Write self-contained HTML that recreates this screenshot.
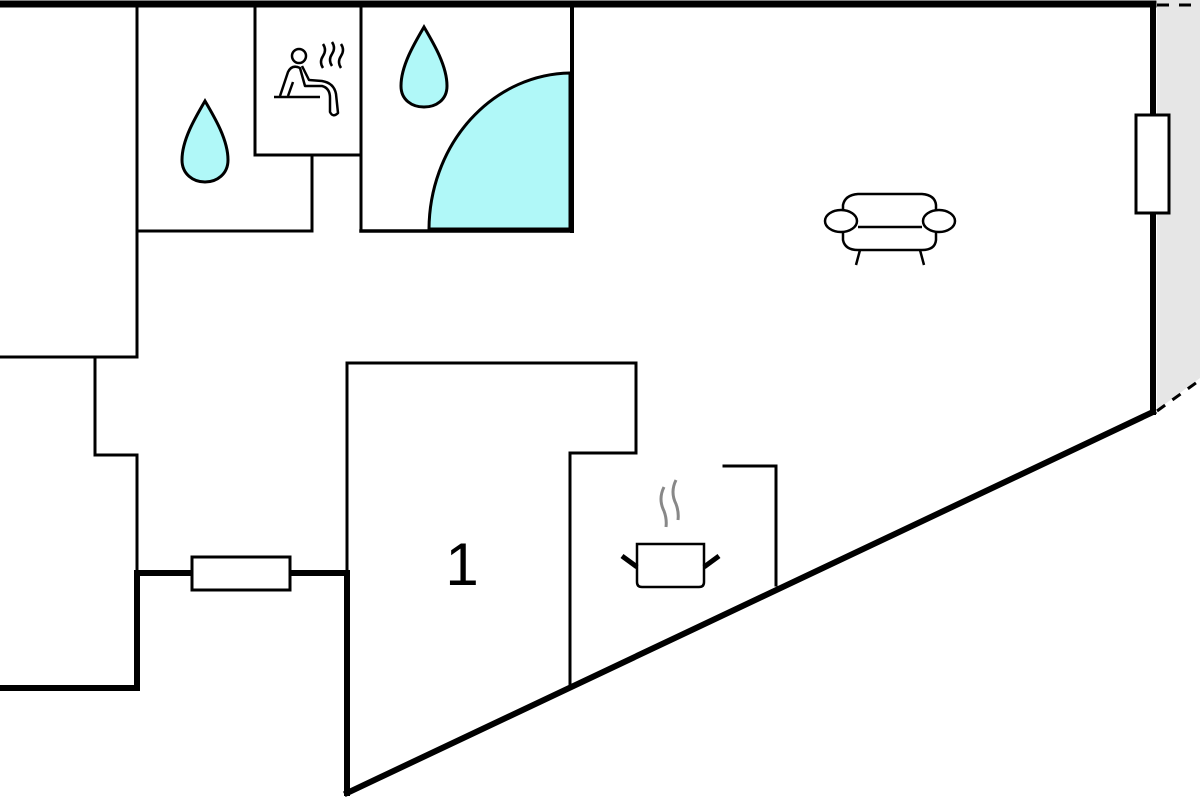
<!DOCTYPE html>
<html><head><meta charset="utf-8"><style>html,body{margin:0;padding:0;background:#fff}svg{display:block}</style></head>
<body>
<svg width="1200" height="800" viewBox="0 0 1200 800" xmlns="http://www.w3.org/2000/svg">
<polygon points="1157,0 1200,0 1200,378 1157,410" fill="#e6e6e6"/>
<g stroke="#000" fill="none" stroke-linecap="square">
<line x1="0" y1="4" x2="1153" y2="4" stroke-width="7"/>
<line x1="1153" y1="4" x2="1153" y2="412" stroke-width="6"/>
<line x1="1153" y1="412" x2="347" y2="793" stroke-width="6"/>
<line x1="347" y1="573" x2="347" y2="793" stroke-width="6"/>
<line x1="137" y1="573" x2="347" y2="573" stroke-width="6"/>
<polyline points="137,573 137,688 0,688" stroke-width="6"/>
<g stroke-width="3">
<line x1="137" y1="4" x2="137" y2="357"/>
<line x1="0" y1="357" x2="137" y2="357"/>
<polyline points="95,357 95,455 137,455 137,573"/>
<polyline points="137,231 312,231 312,157"/>
<polyline points="255,4 255,155 361,155"/>
<line x1="361" y1="4" x2="361" y2="231"/>
<line x1="361" y1="231" x2="572" y2="231" stroke-width="3.5"/>
<line x1="572" y1="4" x2="572" y2="231" stroke-width="4"/>
<polyline points="347,575 347,363 636,363 636,453 570,453 570,685"/>
<polyline points="724,466 776,466 776,585"/>
</g>
</g>
<line x1="1157" y1="5" x2="1200" y2="5" stroke="#000" stroke-width="3" stroke-dasharray="12,10"/>
<line x1="1157" y1="411" x2="1200" y2="380" stroke="#000" stroke-width="3" stroke-dasharray="10,9"/>
<rect x="1136" y="115" width="33" height="98" fill="#fff" stroke="#000" stroke-width="3"/>
<rect x="192" y="557" width="98" height="33" fill="#fff" stroke="#000" stroke-width="3"/>
<path d="M429,229 A143,157 0 0 1 570,73 L570,229 Z" fill="#b0f8f8" stroke="#000" stroke-width="3"/>
<path d="M205,101 C195,118 182,140 182,160 C182,174 193,182 205,182 C217,182 228,174 228,160 C228,140 215,118 205,101 Z" fill="#b0f8f8" stroke="#000" stroke-width="3"/>
<path d="M424,27 C414,44 401,66 401,86 C401,100 412,107 424,107 C436,107 447,100 447,86 C447,66 434,44 424,27 Z" fill="#b0f8f8" stroke="#000" stroke-width="3"/>
<g stroke="#000" fill="none" stroke-width="2.5" stroke-linejoin="round">
<circle cx="299" cy="56" r="7"/>
<path d="M274,97 L320,97"/>
<path d="M280,96 L288,72 Q292,64 300,68 L305,86 L322,86 Q330,88 330,98 L330,112 Q333,118 338,113 L336,94 Q334,83 322,81 L309,80 L302,66"/>
<path d="M288,96 L293,82"/>
<path d="M323,44 q4,6 0,12 q-4,6 0,12 M332,42 q4,6 0,12 q-4,6 0,12 M341,44 q4,6 0,12 q-4,6 0,12"/>
</g>
<g stroke="#000" fill="#fff" stroke-width="2.5">
<path d="M843,223 L843,205 Q845,195 858,194 L922,194 Q935,195 936,205 L936,223"/>
<path d="M843,225 L843,240 Q845,250 858,250 L922,250 Q935,250 936,240 L936,225"/>
<line x1="858" y1="227" x2="922" y2="227"/>
<ellipse cx="841" cy="221" rx="16" ry="11"/>
<ellipse cx="939" cy="221" rx="16" ry="11"/>
<line x1="860" y1="250" x2="856" y2="265"/>
<line x1="920" y1="250" x2="924" y2="265"/>
</g>
<g fill="none">
<path d="M664,487 q-6,12 0,24 q3,8 2,16 M676,480 q-6,12 0,24 q3,8 2,16" stroke="#888" stroke-width="3"/>
<path d="M637,544 L704,544 L704,582 Q704,587 699,587 L642,587 Q637,587 637,582 Z" stroke="#000" stroke-width="2.5" fill="#fff"/>
<line x1="622" y1="556" x2="637" y2="567" stroke="#000" stroke-width="5"/>
<line x1="719" y1="556" x2="704" y2="567" stroke="#000" stroke-width="5"/>
</g>
<text x="462" y="585" font-family="Liberation Sans, sans-serif" font-size="60" text-anchor="middle" fill="#000">1</text>
</svg>
</body></html>
